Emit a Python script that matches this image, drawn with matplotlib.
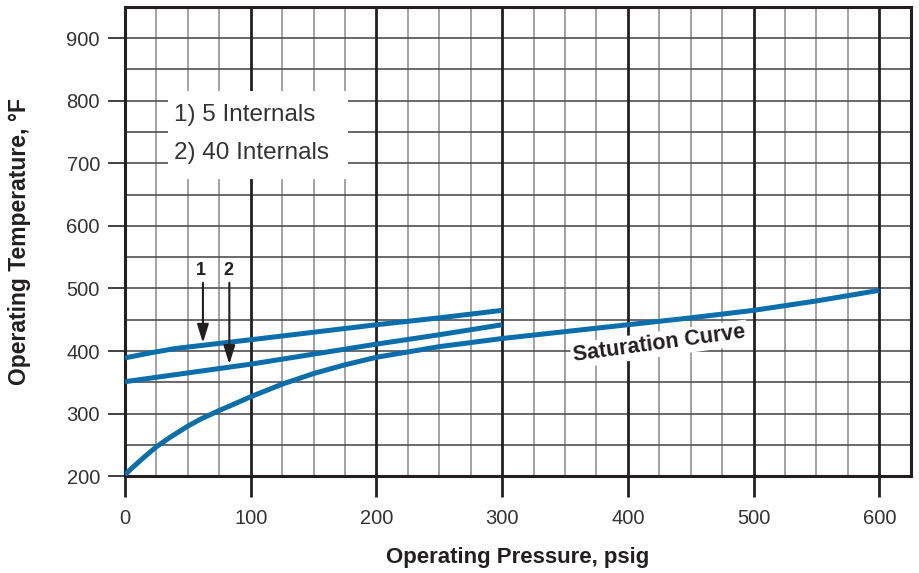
import matplotlib
matplotlib.use("Agg")
import matplotlib.pyplot as plt
from matplotlib.patches import Rectangle

plt.rcParams['font.family'] = ['Liberation Sans', 'DejaVu Sans']

# curve 1: 5 internals
p1 = [0, 20, 40, 100, 150, 200, 250, 300]
t1 = [389, 397, 404, 418, 430, 442, 453, 465]

# curve 2: 40 internals
p2 = [0, 50, 100, 150, 200, 250, 300]
t2 = [351, 365, 379, 395, 411, 426, 442]

# saturation curve
ps = [0, 5, 10, 15, 25, 35, 50, 60, 75, 90, 100, 125, 150, 175, 200, 250, 300, 350, 400, 450, 500, 550, 600]
ts = [202, 212, 221, 230, 247, 261, 280, 291, 305, 318, 327, 347, 364, 378, 390, 407, 420, 431, 442, 453, 465, 480, 497]

x_ticks = [0, 100, 200, 300, 400, 500, 600]
y_ticks = [200, 300, 400, 500, 600, 700, 800, 900]
legend_lines = ["1) 5 Internals", "2) 40 Internals"]

blue = '#0a6eaa'
dark = '#231f20'

fig = plt.figure(figsize=(9.19, 5.73), dpi=100)
ax = fig.add_axes([0.136, 0.169, 0.855, 0.819])
ax.set_xlim(0, 625)
ax.set_ylim(200, 950)

# grid
for x in range(25, 625, 25):
    if x % 100 == 0:
        ax.axvline(x, color=dark, lw=2.0, zorder=0.6)
    else:
        ax.axvline(x, color='#8a8a8a', lw=1.1, zorder=0.5)
for y in range(250, 950, 50):
    ax.axhline(y, color='#505050', lw=1.2, zorder=0.5)

for s in ax.spines.values():
    s.set_linewidth(2.2)
    s.set_color(dark)

ax.set_xticks(x_ticks)
ax.set_yticks(y_ticks)
ax.tick_params(axis='x', length=15, width=2, color=dark, pad=9, labelsize=14.5, labelcolor='#333333')
ax.tick_params(axis='y', length=12, width=1.2, color=dark, pad=6, labelsize=14.5, labelcolor='#333333')

ax.set_xlabel('Operating Pressure, psig', fontsize=16, fontweight='bold', color=dark)
ax.set_ylabel('Operating Temperature, \u00b0F', fontsize=16.5, fontweight='bold', color=dark)
ax.xaxis.set_label_coords(0.5, -0.152)
ax.yaxis.set_label_coords(-0.12, 0.5)

# legend box
ax.add_patch(Rectangle((34, 675), 143, 140, facecolor='white', edgecolor='none', zorder=1))
ax.text(39, 777, legend_lines[0], fontsize=17.5, color='#333333', va='center', zorder=3)
ax.text(39, 716, legend_lines[1], fontsize=17.5, color='#333333', va='center', zorder=3)

for px, py in [(p1, t1), (p2, t2), (ps, ts)]:
    ax.plot(px, py, color=blue, lw=3.6, solid_capstyle='butt', solid_joinstyle='round', zorder=4)

ax.text(425, 411, 'Saturation Curve', fontsize=15.5, fontweight='bold', color=dark,
        rotation=7.8, ha='center', va='center', zorder=5,
        bbox=dict(facecolor='white', edgecolor='none', pad=1.5))

# arrows
ax.annotate('', xy=(62, 413), xytext=(62, 509),
            arrowprops=dict(arrowstyle='-|>,head_length=0.8,head_width=0.25', color=dark, lw=1.5,
                            mutation_scale=14, shrinkA=0, shrinkB=0), zorder=5)
ax.annotate('', xy=(83, 379), xytext=(83, 509),
            arrowprops=dict(arrowstyle='-|>,head_length=0.8,head_width=0.25', color=dark, lw=1.5,
                            mutation_scale=14, shrinkA=0, shrinkB=0), zorder=5)
ax.text(60, 528, '1', fontsize=13, fontweight='bold', color=dark, ha='center', va='center', zorder=5)
ax.text(82, 528, '2', fontsize=13, fontweight='bold', color=dark, ha='center', va='center', zorder=5)

fig.savefig('out.png', dpi=100)
